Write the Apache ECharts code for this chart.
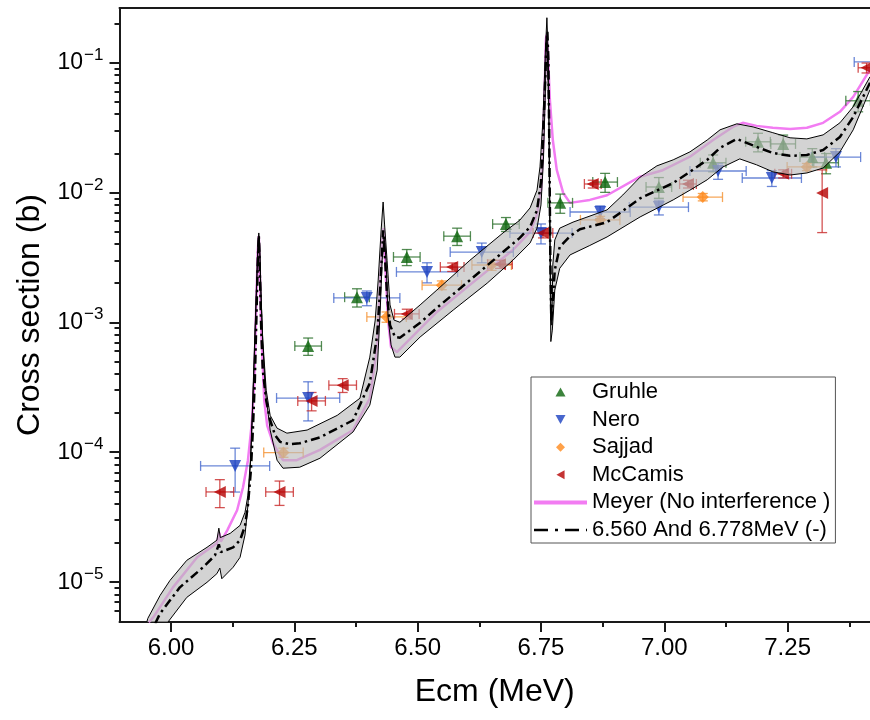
<!DOCTYPE html>
<html><head><meta charset="utf-8">
<script src="https://cdn.jsdelivr.net/npm/echarts@6/dist/echarts.min.js"></script>
<style>html,body{margin:0;padding:0;background:#fff}#c{width:870px;height:720px}</style>
</head><body><div id="c"></div>
<script>
// ---------- axis ticks ----------
const xMajorTicks = [6.00, 6.25, 6.50, 6.75, 7.00, 7.25];
const xMinorTicks = [6.125, 6.375, 6.625, 6.875, 7.125, 7.375];
const yMajorTicks = [1e-5, 1e-4, 1e-3, 1e-2, 1e-1];
const yMinorTicks = [6e-6, 7e-6, 8e-6, 9e-6,
  2e-5, 3e-5, 4e-5, 5e-5, 6e-5, 7e-5, 8e-5, 9e-5,
  2e-4, 3e-4, 4e-4, 5e-4, 6e-4, 7e-4, 8e-4, 9e-4,
  2e-3, 3e-3, 4e-3, 5e-3, 6e-3, 7e-3, 8e-3, 9e-3,
  2e-2, 3e-2, 4e-2, 5e-2, 6e-2, 7e-2, 8e-2, 9e-2,
  2e-1];

// ---------- experimental data ----------
const gruhleE    = [6.278, 6.377, 6.478, 6.580, 6.679, 6.789, 6.880, 6.989, 7.099, 7.190, 7.241, 7.300, 7.328, 7.393];
const gruhleY    = [6.56e-4, 1.56e-3, 3.18e-3, 4.6e-3, 5.7e-3, 8.3e-3, 1.2e-2, 1.1e-2, 1.69e-2, 2.45e-2, 2.36e-2, 1.87e-2, 1.69e-2, 5.07e-2];
const gruhleXerr = [0.027, 0.025, 0.027, 0.027, 0.027, 0.025, 0.025, 0.026, 0.026, 0.025, 0.025, 0.025, 0.025, 0.025];
const gruhleYerr = [1.0e-4, 2.5e-4, 4.5e-4, 7e-4, 7e-4, 1.4e-3, 2e-3, 2e-3, 2.5e-3, 4e-3, 4e-3, 3e-3, 3e-3, 9e-3];

const neroE    = [6.130, 6.278, 6.397, 6.519, 6.630, 6.750, 6.870, 6.989, 7.109, 7.218, 7.348, 7.430];
const neroY    = [7.83e-5, 2.61e-4, 1.54e-3, 2.44e-3, 3.47e-3, 4.86e-3, 7.06e-3, 7.7e-3, 1.46e-2, 1.29e-2, 1.87e-2, 0.101];
const neroXerr = [0.070, 0.064, 0.067, 0.062, 0.064, 0.063, 0.061, 0.060, 0.057, 0.060, 0.050, 0.045];
const neroYerr = [2.9e-5, 8.7e-5, 2e-4, 4.3e-4, 6e-4, 8.5e-4, 8e-4, 1e-3, 2e-3, 1.8e-3, 3e-3, 8e-3];

const sajjadE    = [6.228, 6.437, 6.549, 6.650, 6.870, 7.078, 7.289];
const sajjadY    = [9.93e-5, 1.1e-3, 1.93e-3, 2.76e-3, 6.14e-3, 9.2e-3, 1.57e-2];
const sajjadXerr = [0.040, 0.040, 0.040, 0.040, 0.040, 0.040, 0.040];
const sajjadYerr = [8e-6, 1e-4, 1.5e-4, 2.5e-4, 4e-4, 6e-4, 1e-3];

const mccamisE    = [6.099, 6.220, 6.285, 6.348, 6.478, 6.570, 6.667, 6.754, 6.855, 7.048, 7.241, 7.320, 7.410];
const mccamisY    = [4.94e-5, 4.94e-5, 2.48e-4, 3.28e-4, 1.16e-3, 2.66e-3, 2.8e-3, 4.86e-3, 1.16e-2, 1.16e-2, 1.39e-2, 9.9e-3, 9.1e-2];
const mccamisXerr = [0.028, 0.028, 0.028, 0.028, 0.025, 0.024, 0.025, 0.020, 0.017, 0.017, 0.017, 0, 0.017];
const mccamisYerr = [1.2e-5, 1.05e-5, 4e-5, 4e-5, 1e-4, 2e-4, 2e-4, 4e-4, 8e-4, 8e-4, 1e-3, 5e-3, 8e-3];

// ---------- theory curves [Ecm, sigma] ----------
const meyerCurve = [
  [5.955, 4.9e-6], [5.964, 5.35e-6], [6.004, 9.1e-6], [6.053, 1.55e-5], [6.093, 1.99e-5],
  [6.098, 2.4e-5], [6.101, 2.05e-5], [6.114, 2.5e-5], [6.134, 3.57e-5], [6.146, 5.37e-5],
  [6.156, 8.67e-5], [6.164, 1.7e-4], [6.169, 3.58e-4], [6.173, 1.48e-3], [6.176, 3.6e-3],
  [6.178, 4.6e-3], [6.180, 2.5e-3], [6.183, 8.7e-4], [6.189, 2.51e-4], [6.195, 1.6e-4],
  [6.207, 1.17e-4], [6.227, 8.67e-5], [6.255, 8.67e-5], [6.302, 1.04e-4], [6.369, 1.48e-4],
  [6.403, 2.6e-4], [6.418, 6.5e-4], [6.424, 2.11e-3], [6.428, 4.1e-3], [6.431, 5.3e-3],
  [6.434, 3.0e-3], [6.440, 1.04e-3], [6.446, 6.44e-4], [6.458, 5.89e-4], [6.539, 1.2e-3],
  [6.606, 1.94e-3], [6.693, 3.6e-3], [6.728, 4.97e-3], [6.742, 6.8e-3], [6.750, 1.04e-2],
  [6.754, 2.12e-2], [6.758, 7.35e-2], [6.760, 0.149], [6.761, 0.163], [6.764, 0.12],
  [6.768, 5.17e-2], [6.774, 2.53e-2], [6.782, 1.49e-2], [6.795, 9.9e-3], [6.809, 8.3e-3],
  [6.849, 8.75e-3], [6.884, 9.5e-3], [6.951, 1.32e-2], [6.997, 1.48e-2], [7.052, 1.88e-2],
  [7.099, 2.53e-2], [7.139, 3.19e-2], [7.159, 3.43e-2], [7.187, 3.25e-2], [7.220, 3.14e-2],
  [7.255, 3.08e-2], [7.289, 3.14e-2], [7.322, 3.43e-2], [7.356, 4.17e-2], [7.383, 5.44e-2],
  [7.417, 8.79e-2]
];
const fitCurve = [
  [5.968, 4.8e-6], [5.978, 5.74e-6], [6.018, 9.1e-6], [6.065, 1.30e-5], [6.089, 1.6e-5],
  [6.097, 1.95e-5], [6.101, 1.7e-5], [6.126, 1.85e-5], [6.140, 2.1e-5], [6.150, 2.7e-5],
  [6.156, 3.9e-5], [6.162, 7.3e-5], [6.166, 1.5e-4], [6.170, 3.6e-4], [6.173, 1.04e-3],
  [6.176, 3.0e-3], [6.178, 4.7e-3], [6.180, 2.5e-3], [6.183, 8.7e-4], [6.186, 4.3e-4],
  [6.193, 2.5e-4], [6.201, 1.76e-4], [6.211, 1.35e-4], [6.221, 1.2e-4], [6.241, 1.15e-4],
  [6.261, 1.17e-4], [6.302, 1.3e-4], [6.369, 1.76e-4], [6.403, 3.4e-4], [6.418, 8.0e-4],
  [6.424, 1.8e-3], [6.428, 3.5e-3], [6.430, 5.1e-3], [6.433, 3.6e-3], [6.438, 1.6e-3],
  [6.444, 9.5e-4], [6.454, 7.7e-4], [6.464, 7.6e-4], [6.505, 9.9e-4], [6.539, 1.29e-3],
  [6.606, 2.11e-3], [6.673, 3.47e-3], [6.707, 4.46e-3], [6.728, 5.42e-3], [6.742, 7.3e-3],
  [6.750, 1.2e-2], [6.754, 2.53e-2], [6.758, 6.2e-2], [6.761, 0.137], [6.763, 0.172],
  [6.765, 0.105], [6.767, 2.12e-2], [6.769, 3.0e-3], [6.771, 1.0e-3], [6.774, 1.48e-3],
  [6.778, 2.52e-3], [6.788, 3.8e-3], [6.809, 4.6e-3], [6.829, 5.2e-3], [6.884, 5.9e-3],
  [6.916, 7.2e-3], [6.951, 9.0e-3], [7.018, 1.18e-2], [7.052, 1.44e-2], [7.087, 1.78e-2],
  [7.113, 2.2e-2], [7.147, 2.58e-2], [7.187, 2.24e-2], [7.220, 2.01e-2], [7.255, 1.91e-2],
  [7.289, 1.94e-2], [7.322, 2.12e-2], [7.356, 2.67e-2], [7.383, 3.81e-2], [7.417, 6.98e-2]
];
const bandUpper = [
  [5.951, 4.93e-6], [5.953, 5.25e-6], [5.978, 7.9e-6], [5.998, 1.03e-5], [6.032, 1.47e-5],
  [6.073, 1.85e-5], [6.093, 2.1e-5], [6.097, 2.6e-5], [6.100, 2.2e-5], [6.120, 2.37e-5],
  [6.140, 2.73e-5], [6.150, 3.44e-5], [6.156, 4.66e-5], [6.161, 8.67e-5], [6.165, 2.1e-4],
  [6.169, 6.1e-4], [6.173, 1.77e-3], [6.176, 3.93e-3], [6.178, 4.87e-3], [6.180, 3.93e-3],
  [6.182, 1.77e-3], [6.186, 7.3e-4], [6.193, 3.0e-4], [6.201, 1.92e-4], [6.215, 1.53e-4],
  [6.235, 1.4e-4], [6.276, 1.48e-4], [6.337, 1.92e-4], [6.383, 2.6e-4], [6.403, 5.39e-4],
  [6.414, 1.04e-3], [6.420, 2.11e-3], [6.426, 5.14e-3], [6.430, 8.43e-3], [6.433, 5.61e-3],
  [6.438, 3.0e-3], [6.444, 1.36e-3], [6.452, 1.04e-3], [6.464, 1.0e-3], [6.505, 1.36e-3],
  [6.539, 1.77e-3], [6.606, 3.0e-3], [6.673, 4.87e-3], [6.707, 6.1e-3], [6.728, 7.6e-3],
  [6.742, 1.04e-2], [6.748, 1.57e-2], [6.754, 3.61e-2], [6.759, 0.125], [6.762, 0.221],
  [6.765, 0.105], [6.768, 8.7e-3], [6.770, 1.48e-3], [6.772, 9.5e-4], [6.774, 2.76e-3],
  [6.778, 4.3e-3], [6.788, 5.3e-3], [6.815, 5.9e-3], [6.884, 7.33e-3], [6.916, 9.55e-3],
  [6.951, 1.31e-2], [6.985, 1.6e-2], [7.018, 1.78e-2], [7.052, 2.05e-2], [7.087, 2.53e-2],
  [7.113, 3.03e-2], [7.147, 3.37e-2], [7.180, 3.19e-2], [7.220, 2.88e-2], [7.255, 2.63e-2],
  [7.289, 2.58e-2], [7.322, 2.77e-2], [7.356, 3.43e-2], [7.383, 4.56e-2], [7.417, 7.76e-2]
];
const bandLower = [
  [5.994, 4.93e-6], [6.032, 7.62e-6], [6.073, 9.95e-6], [6.093, 1.16e-5], [6.099, 1.28e-5],
  [6.103, 1.06e-5], [6.126, 1.30e-5], [6.140, 1.55e-5], [6.150, 2.3e-5], [6.156, 3.9e-5],
  [6.162, 9.5e-5], [6.166, 2.51e-4], [6.170, 7.3e-4], [6.174, 2.11e-3], [6.177, 4.3e-3],
  [6.179, 4.5e-3], [6.181, 2.52e-3], [6.185, 8.7e-4], [6.191, 3.0e-4], [6.201, 1.48e-4],
  [6.215, 8.67e-5], [6.227, 7.52e-5], [6.261, 7.66e-5], [6.302, 8.98e-5], [6.369, 1.43e-4],
  [6.403, 2.3e-4], [6.418, 4.28e-4], [6.424, 1.2e-3], [6.428, 3.0e-3], [6.432, 4.54e-3],
  [6.436, 3.0e-3], [6.440, 1.1e-3], [6.446, 6.7e-4], [6.454, 5.39e-4], [6.464, 5.39e-4],
  [6.505, 7.7e-4], [6.572, 1.24e-3], [6.641, 2.0e-3], [6.693, 3.0e-3], [6.728, 4.08e-3],
  [6.742, 5.3e-3], [6.750, 8.0e-3], [6.755, 1.78e-2], [6.759, 6.17e-2], [6.761, 0.15],
  [6.762, 0.16], [6.766, 3.6e-2], [6.768, 3.6e-3], [6.770, 7.1e-4], [6.773, 8.7e-4],
  [6.778, 1.77e-3], [6.788, 2.6e-3], [6.809, 3.3e-3], [6.849, 3.9e-3], [6.884, 4.54e-3],
  [6.951, 6.47e-3], [7.018, 8.75e-3], [7.052, 1.04e-2], [7.087, 1.25e-2], [7.119, 1.57e-2],
  [7.153, 1.81e-2], [7.187, 1.63e-2], [7.220, 1.44e-2], [7.255, 1.36e-2], [7.289, 1.41e-2],
  [7.322, 1.54e-2], [7.356, 2.05e-2], [7.383, 3.03e-2], [7.417, 6.17e-2]
];

// ---------- chart ----------
const FONT = '"Liberation Sans", Arial, Helvetica, sans-serif';
const AX = '#1a1a1a';
const xMin = 5.8956, xMax = 7.417, yMin = 4.925e-6, yMax = 0.2626;
const NONE = { color: 'rgba(0,0,0,0)', borderColor: 'rgba(0,0,0,0)', borderWidth: 0 };

function pairs(E, Y) { return E.map((e, i) => [e, Y[i]]); }

function errBars(name, E, Y, XE, YE, color) {
  return {
    type: 'custom', name: name + ' error bars', silent: true, z: 3,
    data: E.map((e, i) => [e, Y[i], XE[i], YE[i]]),
    encode: { x: 0, y: 1 },
    renderItem(params, api) {
      const x = api.value(0), y = api.value(1), xe = api.value(2), ye = api.value(3);
      const st = { stroke: color, lineWidth: 1.3 };
      const cap = 5;
      const ch = [];
      const seg = (x1, y1, x2, y2) => ch.push({ type: 'line', shape: { x1, y1, x2, y2 }, style: st });
      if (xe > 0) {
        const l = api.coord([x - xe, y]), r = api.coord([x + xe, y]);
        seg(l[0], l[1], r[0], r[1]);
        seg(l[0], l[1] - cap, l[0], l[1] + cap);
        seg(r[0], r[1] - cap, r[0], r[1] + cap);
      }
      if (ye > 0) {
        const t = api.coord([x, y + ye]), b = api.coord([x, y - ye]);
        seg(t[0], t[1], b[0], b[1]);
        seg(t[0] - cap, t[1], t[0] + cap, t[1]);
        seg(b[0] - cap, b[1], b[0] + cap, b[1]);
      }
      return { type: 'group', children: ch };
    }
  };
}

const chart = echarts.init(document.getElementById('c'), null, { renderer: 'canvas' });
chart.setOption({
  animation: false,
  backgroundColor: '#ffffff',
  textStyle: { fontFamily: FONT },
  grid: { left: 119.5, top: 8, right: 0, bottom: 98, containLabel: false },
  legend: {
    data: [
      { name: 'Gruhle', icon: 'path://M5,0L10,9L0,9Z' },
      { name: 'Nero', icon: 'path://M0,0L10,0L5,9Z' },
      { name: 'Sajjad', icon: 'path://M5,0L10,5L5,10L0,5Z' },
      { name: 'McCamis', icon: 'path://M0,5L9,0L9,10Z' },
      { name: 'Meyer (No interference )', lineStyle: { width: 4 }, itemStyle: NONE },
      { name: '6.560 And 6.778MeV (-)', lineStyle: { width: 2.5, type: [14, 7, 3, 7] }, itemStyle: NONE }
    ],
    orient: 'vertical', left: 531, top: 377,
    itemWidth: 53, itemHeight: 9, itemGap: 5.6,
    symbolRotate: 0, symbolKeepAspect: true,
    padding: [4, 5, 2, 1],
    borderColor: '#555', borderWidth: 1, backgroundColor: '#fff',
    selectedMode: false,
    textStyle: { fontSize: 22, color: '#000', fontFamily: FONT, lineHeight: 22 }
  },
  xAxis: [
    {
      type: 'value', min: xMin, max: xMax, position: 'bottom',
      axisLine: { onZero: false, lineStyle: { color: AX, width: 2 } },
      axisTick: { customValues: xMajorTicks, length: 10, lineStyle: { color: AX, width: 2 } },
      axisLabel: { customValues: xMajorTicks, formatter: v => v.toFixed(2), fontSize: 24, color: '#000', fontFamily: FONT, margin: 14 },
      splitLine: { show: false },
      name: 'Ecm (MeV)', nameLocation: 'middle', nameGap: 54,
      nameTextStyle: { fontSize: 32, color: '#000', fontFamily: FONT }
    },
    {
      type: 'value', min: xMin, max: xMax, position: 'bottom',
      axisLine: { show: false, onZero: false },
      axisTick: { customValues: xMinorTicks, length: 5, lineStyle: { color: AX, width: 2 } },
      axisLabel: { show: false }, splitLine: { show: false }
    },
    {
      type: 'value', min: xMin, max: xMax, position: 'top',
      axisLine: { show: true, onZero: false, lineStyle: { color: AX, width: 2 } },
      axisTick: { show: false }, axisLabel: { show: false }, splitLine: { show: false }
    }
  ],
  yAxis: [
    {
      type: 'log', logBase: 10, min: yMin, max: yMax, position: 'left',
      axisLine: { show: true, onZero: false, lineStyle: { color: AX, width: 2 } },
      axisTick: { show: false }, minorTick: { show: false }, splitLine: { show: false },
      axisLabel: {
        showMinLabel: false, showMaxLabel: false, margin: 16,
        formatter: v => '{b|10}{s|\u2212' + Math.abs(Math.round(Math.log10(v))) + '}',
        rich: {
          b: { fontSize: 23, fontFamily: FONT, color: '#000', verticalAlign: 'bottom', lineHeight: 24 },
          s: { fontSize: 17, fontFamily: FONT, color: '#000', verticalAlign: 'bottom', lineHeight: 17, padding: [0, 0, 11, 1] }
        }
      },
      name: 'Cross section (b)', nameLocation: 'middle', nameGap: 67, nameRotate: 90,
      nameTextStyle: { fontSize: 32, color: '#000', fontFamily: FONT }
    },
    {
      type: 'value', min: Math.log10(yMin), max: Math.log10(yMax), position: 'left',
      axisLine: { show: false, onZero: false },
      axisTick: { customValues: yMajorTicks.map(Math.log10), length: 10, lineStyle: { color: AX, width: 2 } },
      axisLabel: { show: false }, splitLine: { show: false }
    },
    {
      type: 'value', min: Math.log10(yMin), max: Math.log10(yMax), position: 'left',
      axisLine: { show: false, onZero: false },
      axisTick: { customValues: yMinorTicks.map(Math.log10), length: 5, lineStyle: { color: AX, width: 2 } },
      axisLabel: { show: false }, splitLine: { show: false }
    }
  ],
  series: [
    { type: 'line', name: 'Meyer (No interference )', data: meyerCurve, symbol: 'none', z: 2,
      itemStyle: { color: '#f27cf2' }, lineStyle: { color: '#f27cf2', width: 2.5 } },
    errBars('Gruhle', gruhleE, gruhleY, gruhleXerr, gruhleYerr, 'rgba(40,110,40,0.8)'),
    errBars('Nero', neroE, neroY, neroXerr, neroYerr, 'rgba(70,105,205,0.8)'),
    errBars('Sajjad', sajjadE, sajjadY, sajjadXerr, sajjadYerr, 'rgba(245,150,60,0.85)'),
    errBars('McCamis', mccamisE, mccamisY, mccamisXerr, mccamisYerr, 'rgba(200,40,40,0.8)'),
    { type: 'scatter', name: 'Gruhle', data: pairs(gruhleE, gruhleY), symbol: 'triangle', symbolSize: 12, z: 4,
      itemStyle: { color: '#0b640b' } },
    { type: 'scatter', name: 'Nero', data: pairs(neroE, neroY), symbol: 'triangle', symbolRotate: 180, symbolSize: 12, z: 4,
      itemStyle: { color: '#1a40c0' } },
    { type: 'scatter', name: 'Sajjad', data: pairs(sajjadE, sajjadY), symbol: 'diamond', symbolSize: 12, z: 4,
      itemStyle: { color: '#ff8a1c' } },
    { type: 'scatter', name: 'McCamis', data: pairs(mccamisE, mccamisY), symbol: 'triangle', symbolRotate: 90, symbolSize: 12, z: 4,
      itemStyle: { color: '#b50000' } },
    {
      type: 'custom', name: 'band', silent: true, z: 5,
      data: [bandUpper[0]], encode: { x: 0, y: 1 },
      renderItem(params, api) {
        if (params.dataIndex !== 0) return null;
        const pts = bandUpper.map(p => api.coord(p)).concat(bandLower.slice().reverse().map(p => api.coord(p)));
        return { type: 'polygon', shape: { points: pts }, style: { fill: 'rgba(187,187,187,0.65)', stroke: null } };
      }
    },
    { type: 'line', name: 'band upper', data: bandUpper, symbol: 'none', z: 6, silent: true,
      lineStyle: { color: '#000', width: 1 } },
    { type: 'line', name: 'band lower', data: bandLower, symbol: 'none', z: 6, silent: true,
      lineStyle: { color: '#000', width: 1 } },
    { type: 'line', name: '6.560 And 6.778MeV (-)', data: fitCurve, symbol: 'none', z: 7,
      itemStyle: { color: '#000' }, lineStyle: { color: '#000', width: 2.5, type: [9, 4, 2.5, 4] } }
  ]
});
</script>
</body></html>
